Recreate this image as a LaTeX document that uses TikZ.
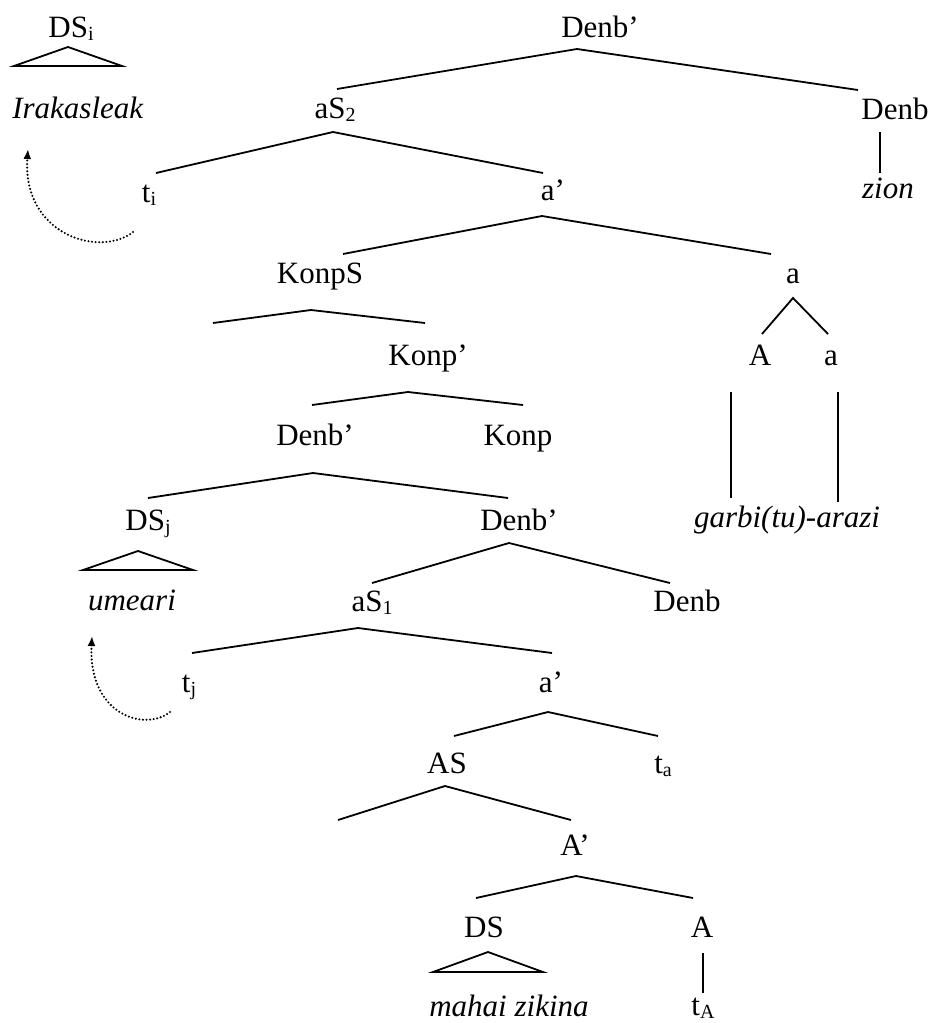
\documentclass[tikz,border=0pt]{standalone}
\usepackage{fontspec}
\setmainfont{Liberation Serif}
\usetikzlibrary{arrows.meta}
\newcommand{\lsub}[1]{\raisebox{-3pt}{\fontsize{20}{20}\selectfont #1}}
\begin{document}
\begin{tikzpicture}[x=1pt,y=-1pt,
  lbl/.style={anchor=base,inner sep=0pt,font=\fontsize{31}{36}\selectfont},
  branch/.style={line width=1.8pt,line join=miter},
  move/.style={line width=2.3pt,dash pattern=on 0pt off 3.6pt,line cap=round,-{Latex[length=10pt,width=8pt]}}]
\useasboundingbox (0,0) rectangle (932,1023);
% labels
\node[lbl] (dsi) at (71,37) {DS\lsub{i}};
\node[lbl] (irak) at (78,118) {\textit{Irakasleak}};
\node[lbl] (root) at (600,37) {Denb’};
\node[lbl] (as2) at (335,118) {aS\lsub{2}};
\node[lbl] (denbR) at (895,119) {Denb};
\node[lbl] (zion) at (888,198) {\textit{zion}};
\node[lbl] (ti) at (149,202) {t\lsub{i}};
\node[lbl] (abar) at (553,200) {a’};
\node[lbl] (konps) at (320,283) {KonpS};
\node[lbl] (aR) at (793,283) {a};
\node[lbl] (konpbar) at (428,365) {Konp’};
\node[lbl] (AR) at (760,365) {A};
\node[lbl] (aR2) at (831,365) {a};
\node[lbl] (denbbarM) at (315,445) {Denb’};
\node[lbl] (konp) at (518,445) {Konp};
\node[lbl] (dsj) at (148,530) {DS\lsub{j}};
\node[lbl] (denbbarL) at (519,530) {Denb’};
\node[lbl] (garbi) at (787,527) {\textit{garbi(tu)-arazi}};
\node[lbl] (umeari) at (132,610) {\textit{umeari}};
\node[lbl] (as1) at (372,611) {aS\lsub{1}};
\node[lbl] (denbL) at (687,611) {Denb};
\node[lbl] (tj) at (189,692) {t\lsub{j}};
\node[lbl] (abar2) at (551,692) {a’};
\node[lbl] (as) at (447,773) {AS};
\node[lbl] (ta) at (663,773) {t\lsub{a}};
\node[lbl] (Abar) at (575,855) {A’};
\node[lbl] (ds) at (484,937) {DS};
\node[lbl] (A) at (702,937) {A};
\node[lbl] (mahai) at (509,1016) {\textit{mahai zikina}};
\node[lbl] (tA) at (703,1015) {t\lsub{A}};
% branch points
\coordinate (root-b) at (577,49);
\coordinate (as2-t) at (337,89);
\coordinate (denbR-t) at (858,90);
\coordinate (denbR-b) at (880,132);
\coordinate (zion-t) at (880,173);
\coordinate (as2-b) at (333,132);
\coordinate (ti-t) at (156,173);
\coordinate (abar-t) at (543,173);
\coordinate (abar-b) at (542,216);
\coordinate (konps-t) at (343,254);
\coordinate (aR-t) at (771,254);
\coordinate (konps-b) at (311,310);
\coordinate (konps-l) at (213,323);
\coordinate (konpbar-t) at (425,323);
\coordinate (aR-b) at (793,298);
\coordinate (AR-t) at (762,334);
\coordinate (aR2-t) at (828,334);
\coordinate (AR-b) at (731,392);
\coordinate (garbi-l) at (731,498);
\coordinate (aR2-b) at (838,392);
\coordinate (garbi-r) at (838,502);
\coordinate (konpbar-b) at (408,392);
\coordinate (denbbarM-t) at (312,405);
\coordinate (konp-t) at (523,405);
\coordinate (denbbarM-b) at (313,473);
\coordinate (dsj-t) at (148,498);
\coordinate (denbbarL-t) at (508,498);
\coordinate (denbbarL-b) at (509,543);
\coordinate (as1-t) at (372,583);
\coordinate (denbL-t) at (670,583);
\coordinate (as1-b) at (358,628);
\coordinate (tj-t) at (192,653);
\coordinate (abar2-t) at (552,653);
\coordinate (abar2-b) at (548,712);
\coordinate (as-t) at (454,736);
\coordinate (ta-t) at (658,736);
\coordinate (as-b) at (445,786);
\coordinate (as-l) at (338,820);
\coordinate (Abar-t) at (571,820);
\coordinate (Abar-b) at (576,876);
\coordinate (ds-t) at (476,898);
\coordinate (A-t) at (693,898);
\coordinate (A-b) at (703,953);
\coordinate (tA-t) at (703,993);
% branches
\draw[branch] (as2-t) -- (root-b) -- (denbR-t);
\draw[branch] (denbR-b) -- (zion-t);
\draw[branch] (ti-t) -- (as2-b) -- (abar-t);
\draw[branch] (konps-t) -- (abar-b) -- (aR-t);
\draw[branch] (konps-l) -- (konps-b) -- (konpbar-t);
\draw[branch] (AR-t) -- (aR-b) -- (aR2-t);
\draw[branch] (AR-b) -- (garbi-l);
\draw[branch] (aR2-b) -- (garbi-r);
\draw[branch] (denbbarM-t) -- (konpbar-b) -- (konp-t);
\draw[branch] (dsj-t) -- (denbbarM-b) -- (denbbarL-t);
\draw[branch] (as1-t) -- (denbbarL-b) -- (denbL-t);
\draw[branch] (tj-t) -- (as1-b) -- (abar2-t);
\draw[branch] (as-t) -- (abar2-b) -- (ta-t);
\draw[branch] (as-l) -- (as-b) -- (Abar-t);
\draw[branch] (ds-t) -- (Abar-b) -- (A-t);
\draw[branch] (A-b) -- (tA-t);
% triangles
\draw[branch] (14,66) -- (68,47) -- (122,66) -- cycle;
\draw[branch] (83,570) -- (138,551) -- (193,570) -- cycle;
\draw[branch] (433,972) -- (488,952) -- (543,972) -- cycle;
% movement arrows
\coordinate (mv1-s) at (133,232);
\coordinate (mv1-e) at (28,149);
\coordinate (mv2-s) at (170,712);
\coordinate (mv2-e) at (92,636);
\draw[move] (mv1-s) .. controls (100,258) and (22,235) .. (mv1-e);
\draw[move] (mv2-s) .. controls (145,732) and (88,715) .. (mv2-e);
\end{tikzpicture}
\end{document}
